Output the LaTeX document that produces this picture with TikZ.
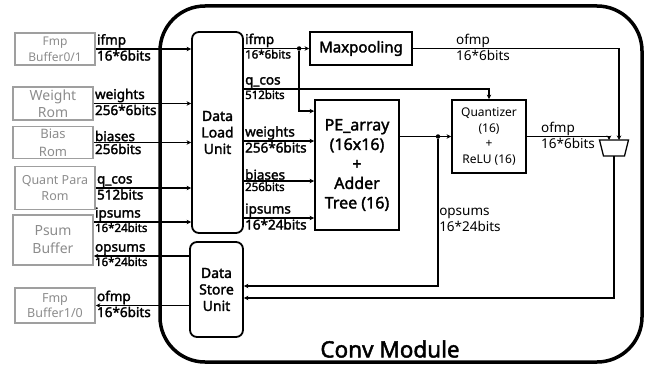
\documentclass[tikz,border=0pt]{standalone}
\usepackage{fontspec}
\setmainfont{Noto Sans}[AutoFakeBold=2]
\usetikzlibrary{arrows.meta, positioning, shapes.geometric}

\tikzset{
  membox/.style={draw=gray!75, line width=1.6pt, text=gray!90, align=center, minimum width=80pt, inner sep=1pt},
  unitbox/.style={draw, line width=1.8pt, rounded corners=7pt, align=center, font=\bfseries\fontsize{14}{16.5}\selectfont},
  blockbox/.style={draw, line width=1.8pt, align=center},
  sig/.style={line width=1.3pt, -{Stealth[length=4.5pt,width=4.5pt]}},
  lbl/.style={inner sep=0.6pt, font=\bfseries\fontsize{13.5}{15}\selectfont},
  slbl/.style={inner sep=0.6pt, font=\bfseries\fontsize{11.5}{13}\selectfont},
  rlbl/.style={inner sep=0.6pt, align=left, font=\fontsize{13.5}{16}\selectfont},
  dot/.style={circle, fill, inner sep=0pt, minimum size=4.5pt},
}

\begin{document}
\begin{tikzpicture}[x=1pt, y=-1pt]
  \useasboundingbox (0,0) rectangle (652,369);

  % module frame
  \node (conv) [draw, line width=3.5pt, rounded corners=45pt, minimum width=482pt, minimum height=356pt] at (401,184) {};
  \node (convlbl) at (390,349) {\bfseries\fontsize{22.5}{24}\selectfont Conv Module};

  % memories outside
  \node (fmpa) [membox, minimum height=32pt, font=\fontsize{12}{16}\selectfont] at (55,49) {Fmp\\Buffer0/1};
  \node (wrom) [membox, minimum height=33pt, font=\fontsize{14}{17}\selectfont] at (53,103.5) {Weight\\Rom};
  \node (brom) [membox, minimum height=32pt, font=\fontsize{13}{18}\selectfont] at (53,142.5) {Bias\\Rom};
  \node (qrom) [membox, minimum height=43pt, font=\fontsize{12.5}{16}\selectfont] at (55,188) {Quant Para\\Rom};
  \node (psum) [membox, minimum height=50pt, font=\fontsize{14}{18}\selectfont] at (53,240) {Psum\\Buffer};
  \node (fmpb) [membox, minimum height=35pt, font=\fontsize{12.5}{15}\selectfont] at (55,305.5) {Fmp\\Buffer1/0};

  % units
  \node (dlu) [unitbox, minimum width=51pt, minimum height=201pt] at (217.5,132.5) {Data\\Load\\Unit};
  \node (dsu) [unitbox, minimum width=53pt, minimum height=95pt] at (216.5,289.5) {Data\\Store\\Unit};
  \node (mp) [blockbox, minimum width=102pt, minimum height=33pt, font=\bfseries\fontsize{15}{17}\selectfont] at (361,48.5) {Maxpooling};
  \node (pe) [blockbox, minimum width=84pt, minimum height=130pt, font=\bfseries\fontsize{16}{19.5}\selectfont] at (357,165) {PE\_array\\(16x16)\\+\\Adder\\Tree (16)};
  \node (qnt) [blockbox, minimum width=74pt, minimum height=73pt, font=\fontsize{12}{15.5}\selectfont] at (489,136.5) {Quantizer\\(16)\\+\\ReLU (16)};
  % output mux
  \coordinate (mux) at (614,148);
  \coordinate (muxtop) at ([yshift=8pt]mux);
  \coordinate (muxbot) at ([yshift=-8pt]mux);
  \draw[line width=1.3pt] ([xshift=-14.5pt]muxtop) -- ([xshift=14.5pt]muxtop) -- ([xshift=10.5pt]muxbot) -- ([xshift=-10.5pt]muxbot) -- cycle;

  % memories -> load / store -> memories
  \draw[sig] (fmpa.east) -- (fmpa.east -| dlu.west) node[pos=0, above right, lbl] {ifmp} node[pos=0, below right, lbl] {16*6bits};
  \draw[sig] (wrom.east) -- (wrom.east -| dlu.west) node[pos=0, above right, lbl] {weights} node[pos=0, below right, lbl] {256*6bits};
  \draw[sig] (brom.east) -- (brom.east -| dlu.west) node[pos=0, above right, lbl] {biases} node[pos=0, below right, lbl] {256bits};
  \draw[sig] (qrom.east) -- (qrom.east -| dlu.west) node[pos=0, above right, lbl] {q\_cos} node[pos=0, below right, lbl] {512bits};
  \coordinate (psin) at ([yshift=18pt]psum.east);
  \coordinate (psout) at ([yshift=-16pt]psum.east);
  \draw[sig] (psin) -- (psin -| dlu.west) node[pos=0, above right, lbl] {ipsums} node[pos=0, below right, slbl] {16*24bits};
  \draw[sig] (psout -| dsu.west) -- (psout) node[pos=1, above right, lbl] {opsums} node[pos=1, below right, slbl] {16*24bits};
  \draw[sig] (fmpb.east -| dsu.west) -- (fmpb.east) node[pos=1, above right, lbl] {ofmp} node[pos=1, below right, lbl] {16*6bits};

  % load unit -> compute
  \coordinate (split) at ([xshift=-10pt]mp.west);
  \coordinate (pein) at ([yshift=-12pt]pe.north west);
  \draw[sig] (dlu.east |- mp.west) -- (mp.west) node[pos=0, above right, lbl] {ifmp} node[pos=0, below right, slbl] {16*6bits};
  \node (splitdot) [dot] at (split) {};
  \draw[sig] (splitdot) |- (pein);
  \draw[sig] (dlu.east |- 0,89) -| (qnt.north) node[pos=0, above right, lbl] {q\_cos} node[pos=0, below right, slbl] {512bits};
  \draw[sig] (dlu.east |- 0,141) -- (pe.west |- 0,141) node[pos=0, above right, lbl] {weights} node[pos=0, below right, lbl] {256*6bits};
  \draw[sig] (dlu.east |- 0,181) -- (pe.west |- 0,181) node[pos=0, above right, lbl] {biases} node[pos=0, below right, slbl] {256bits};
  \draw[sig] (dlu.east |- 0,218) -- (pe.west |- 0,218) node[pos=0, above right, lbl] {ipsums} node[pos=0, below right, lbl] {16*24bits};

  % compute -> outputs
  \draw[sig] (pe.east |- qnt.west) -- (qnt.west);
  \node (tapdot) [dot] at (438,136.5) {};
  \draw[sig] (tapdot) |- (dsu.east |- 0,286) node[pos=0.275, right, rlbl] {opsums\\16*24bits};
  \draw[sig] (mp.east) -| ([xshift=5pt]muxtop) node[pos=0, above right, xshift=42pt, rlbl] {ofmp} node[pos=0, below right, xshift=42pt, rlbl] {16*6bits};
  \draw[sig] (qnt.east) -| ([xshift=-5pt]muxtop) node[pos=0, above right, xshift=13pt, rlbl] {ofmp} node[pos=0, below right, xshift=13pt, rlbl] {16*6bits};
  \draw[sig] (muxbot) |- (dsu.east |- 0,298);
\end{tikzpicture}
\end{document}
